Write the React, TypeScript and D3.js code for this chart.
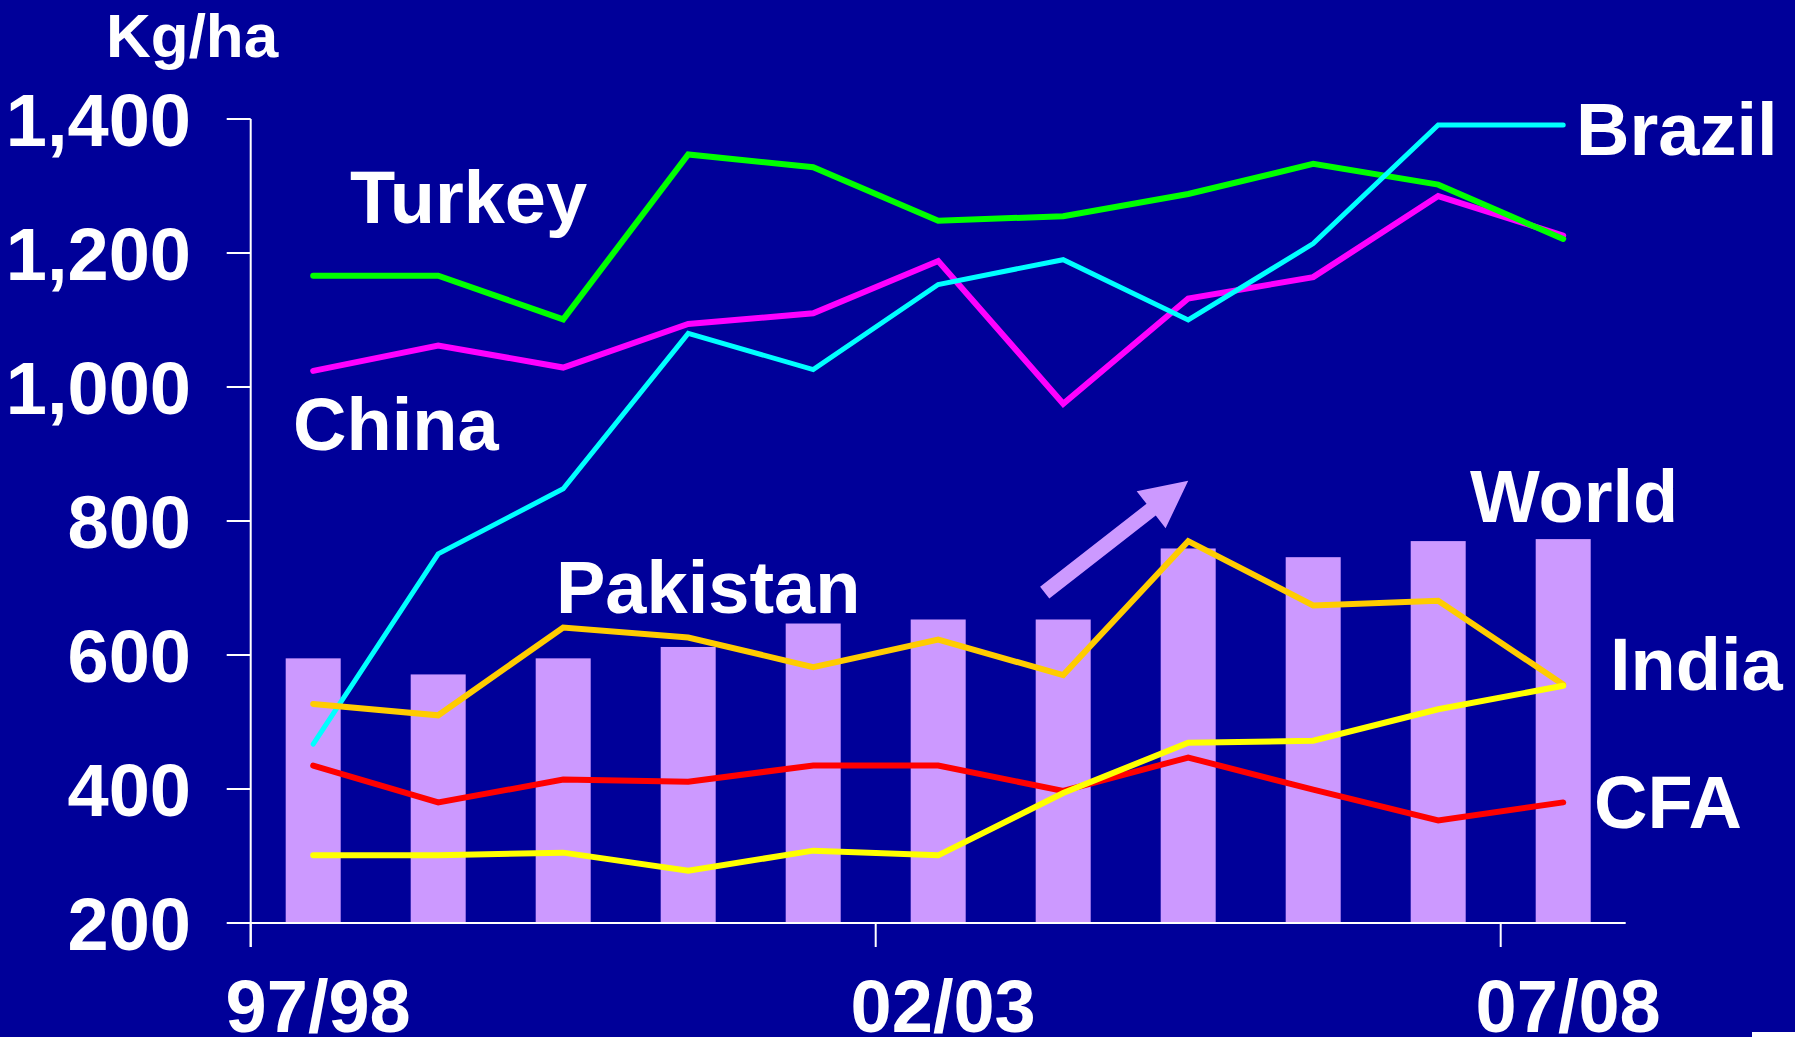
import { line, scaleBand, scaleLinear } from "d3";

const seasons = ["97/98", "98/99", "99/00", "00/01", "01/02", "02/03", "03/04", "04/05", "05/06", "06/07", "07/08"];
const labelledSeasons = ["97/98", "02/03", "07/08"];
const yTicks = [200, 400, 600, 800, 1000, 1200, 1400];

const world = [595, 571, 595, 612, 647, 653, 653, 759, 746, 770, 773];
const turkey = [1166, 1166, 1101, 1347, 1328, 1248, 1255, 1288, 1333, 1302, 1221];
const china = [1024, 1062, 1029, 1094, 1110, 1188, 975, 1132, 1164, 1285, 1226];
const brazil = [467, 751, 848, 1080, 1026, 1153, 1190, 1100, 1214, 1391, 1391];
const pakistan = [527, 510, 641, 626, 582, 623, 570, 770, 674, 681, 556];
const india = [301, 301, 305, 278, 308, 301, 394, 469, 472, 519, 554];
const cfa = [435, 380, 414, 411, 435, 435, 397, 447, 399, 353, 380];

// drawing order matters: later series sit on top
const series = [
  { name: "CFA", color: "#ff0000", width: 6, values: cfa },
  { name: "China", color: "#ff00ff", width: 6, values: china },
  { name: "Turkey", color: "#00ff00", width: 6, values: turkey },
  { name: "Brazil", color: "#00ffff", width: 5, values: brazil },
  { name: "Pakistan", color: "#ffcc00", width: 6, values: pakistan },
  { name: "India", color: "#ffff00", width: 6, values: india },
];

const labels = [
  { text: "Kg/ha", x: 106, y: 57, size: 62 },
  { text: "Turkey", x: 350, y: 223, size: 74 },
  { text: "China", x: 293, y: 450, size: 74 },
  { text: "Brazil", x: 1576, y: 155, size: 74 },
  { text: "World", x: 1470, y: 522, size: 74 },
  { text: "Pakistan", x: 556, y: 613, size: 74 },
  { text: "India", x: 1610, y: 690, size: 74 },
  { text: "CFA", x: 1594, y: 828, size: 74 },
];

const W = 1795;
const H = 1037;
const BG = "#000099";
const BAR = "#cc99ff";
const FONT = "'Liberation Sans', Arial, Helvetica, sans-serif";

export default function App() {
  const x = scaleBand<string>().domain(seasons).range([250.7, 1625.7]).padding(0);
  const y = scaleLinear().domain([200, 1400]).range([923, 119]);
  const bw = x.bandwidth();
  const cx = (i: number) => (x(seasons[0]) ?? 0) + bw * (i + 0.5);
  const barW = bw * 0.44;

  const path = line<number>()
    .x((_, i) => cx(i))
    .y((v) => y(v));

  // arrow annotation, placed in chart units (fractional season index, kg/ha)
  const tail = [cx(5.852), y(693)];
  const tip = [cx(7.0), y(860)];
  const dx = tip[0] - tail[0];
  const dy = tip[1] - tail[1];
  const len = Math.hypot(dx, dy);
  const ux = dx / len;
  const uy = dy / len;
  const px = -uy;
  const py = ux;
  const shaft = 7.5;
  const head = 23.5;
  const headLen = 47;
  const bx = tip[0] - ux * headLen;
  const by = tip[1] - uy * headLen;
  const arrow = [
    [tail[0] + px * shaft, tail[1] + py * shaft],
    [bx + px * shaft, by + py * shaft],
    [bx + px * head, by + py * head],
    [tip[0], tip[1]],
    [bx - px * head, by - py * head],
    [bx - px * shaft, by - py * shaft],
    [tail[0] - px * shaft, tail[1] - py * shaft],
  ]
    .map((p) => p.join(","))
    .join(" ");

  const x0 = x.range()[0];
  const x1 = x.range()[1];
  const yBase = y(200);

  return (
    <svg
      width={W}
      height={H}
      style={{ position: "absolute", left: 0, top: 0, display: "block" }}
      fontFamily={FONT}
      fontWeight="bold"
    >
      <rect width={W} height={H} fill={BG} />

      {world.map((v, i) => (
        <rect key={seasons[i]} x={cx(i) - barW / 2} y={y(v)} width={barW} height={yBase - y(v)} fill={BAR} />
      ))}

      <polygon points={arrow} fill={BAR} />

      {/* axes */}
      <line x1={x0} x2={x0} y1={y(1400)} y2={yBase + 24} stroke="#fff" strokeWidth={2} />
      <line x1={x0} x2={x1} y1={yBase} y2={yBase} stroke="#fff" strokeWidth={2} />
      {yTicks.map((t) => (
        <g key={t}>
          <line x1={x0 - 24} x2={x0} y1={y(t)} y2={y(t)} stroke="#fff" strokeWidth={2} />
          <text x={191} y={y(t) + 26.5} fill="#fff" fontSize={74} textAnchor="end">
            {t.toLocaleString("en-US")}
          </text>
        </g>
      ))}
      {labelledSeasons.map((s) => (
        <g key={s}>
          <line x1={x(s)} x2={x(s)} y1={yBase} y2={yBase + 24} stroke="#fff" strokeWidth={2} />
          <text x={(x(s) ?? 0) + bw / 2 + 5} y={1032} fill="#fff" fontSize={74} textAnchor="middle">
            {s}
          </text>
        </g>
      ))}

      {series.map((s) => (
        <path
          key={s.name}
          d={path(s.values) ?? ""}
          fill="none"
          stroke={s.color}
          strokeWidth={s.width}
          strokeLinecap="round"
          strokeLinejoin="miter"
        />
      ))}

      {labels.map((l) => (
        <text key={l.text} x={l.x} y={l.y} fill="#fff" fontSize={l.size}>
          {l.text}
        </text>
      ))}

      <rect x={1752} y={1032} width={43} height={5} fill="#fff" />
    </svg>
  );
}
